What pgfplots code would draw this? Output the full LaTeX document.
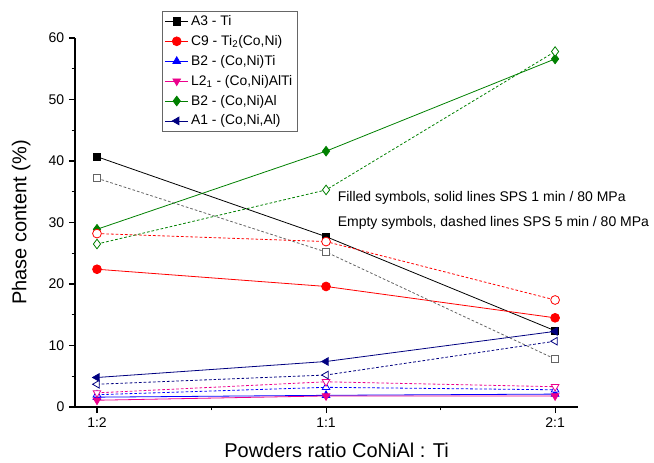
\documentclass[border=0pt]{standalone}
\usepackage{pgfplots}
\pgfplotsset{compat=1.18}
\usepackage{fontspec}
\setmainfont{Liberation Sans}

\definecolor{cnavy}{RGB}{0,0,128}
\definecolor{cgreen}{RGB}{0,128,0}
\definecolor{cgray}{RGB}{100,100,100}

\begin{document}
\begin{tikzpicture}
% fixed page: 654 x 462 px at 0.75pt per px, axis box at the origin
\useasboundingbox (-56.25pt,-41.25pt) rectangle (434.25pt,305.25pt);
\begin{axis}[
  at={(0,0)}, anchor=south west,
  scale only axis, width=377.25pt, height=276.75pt,
  xmin=-0.096, xmax=2.1, ymin=0, ymax=60,
  clip mode=individual,
  axis x line*=bottom, axis y line*=left,
  axis line style={-, line width=1pt},
  xtick={0,1,2}, xticklabels={1:2,1:1,2:1},
  minor xtick={0.5,1.5},
  ytick={0,10,...,60}, minor ytick={5,15,...,55},
  tick align=outside,
  major tick length=4.5pt, minor tick length=2.5pt,
  every tick/.style={line width=0.8pt, black},
  tick label style={font=\fontsize{10.5}{12}\selectfont},
  /pgf/number format/assume math mode=true,
  xlabel={Powders ratio CoNiAl : Ti},
  ylabel={Phase content (\%)},
  label style={font=\fontsize{15}{18}\selectfont},
  x label style={at={(axis description cs:0.52,-0.1165)}, anchor=center},
  y label style={at={(axis description cs:-0.107,0.5)}, anchor=center},
  legend style={at={(rel axis cs:0.173,1.073)}, anchor=north west,
    draw=black!60, fill=white, font=\fontsize{10.4}{12.5}\selectfont,
    row sep=1.9pt, inner xsep=2pt, inner ysep=1pt},
  legend cell align=left,
  legend image post style={sharp plot},
  every axis plot/.append style={line width=0.6pt, mark size=3pt},
]
% filled symbols, solid lines: SPS 1 min / 80 MPa
\addplot[black, mark=square*, mark size=2.7pt] coordinates {(0,40.7) (1,27.7) (2,12.4)};
\addplot[red, mark=*, mark size=3.3pt] coordinates {(0,22.4) (1,19.6) (2,14.5)};
\addplot[blue, mark=triangle*, mark size=3.3pt] coordinates {(0,1.6) (1,1.9) (2,2.1)};
\addplot[magenta, mark=triangle*, mark size=3.3pt, mark options={rotate=180}] coordinates {(0,1.1) (1,1.8) (2,1.8)};
\addplot[cgreen, mark=diamond*, mark size=3.6pt] coordinates {(0,28.9) (1,41.6) (2,56.6)};
\addplot[cnavy, mark=triangle*, mark size=3.3pt, mark options={rotate=90}] coordinates {(0,4.8) (1,7.4) (2,12.3)};
\legend{{A3 - Ti}, {C9 - Ti\textsubscript{2}(Co,Ni)}, {B2 - (Co,Ni)Ti},
  {L2\textsubscript{1} - (Co,Ni)AlTi}, {B2 - (Co,Ni)Al}, {A1 - (Co,Ni,Al)}}
% empty symbols, dashed lines: SPS 5 min / 80 MPa
\addplot[cgray, dash pattern=on 2pt off 1.5pt, mark=square*, mark size=2.7pt,
  mark options={solid, fill=white}, forget plot] coordinates {(0,37.2) (1,25.2) (2,7.8)};
\addplot[red, dash pattern=on 2pt off 1.5pt, mark=*, mark size=3.3pt,
  mark options={solid, fill=white}, forget plot] coordinates {(0,28.2) (1,26.9) (2,17.4)};
\addplot[blue, dash pattern=on 2pt off 1.5pt, mark=triangle*, mark size=3.3pt,
  mark options={solid, fill=white}, forget plot] coordinates {(0,2.0) (1,3.2) (2,2.8)};
\addplot[magenta, dash pattern=on 2pt off 1.5pt, mark=triangle*, mark size=3.3pt,
  mark options={solid, fill=white, rotate=180}, forget plot] coordinates {(0,2.3) (1,4.1) (2,3.3)};
\addplot[cgreen, dash pattern=on 2pt off 1.5pt, mark=diamond*, mark size=3.6pt,
  mark options={solid, fill=white}, forget plot] coordinates {(0,26.5) (1,35.3) (2,57.8)};
\addplot[cnavy, dash pattern=on 2pt off 1.5pt, mark=triangle*, mark size=3.3pt,
  mark options={solid, fill=white, rotate=90}, forget plot] coordinates {(0,3.7) (1,5.2) (2,10.7)};
\node[anchor=west, font=\fontsize{10.5}{12}\selectfont, inner sep=0pt] at (axis cs:1.05,34.0)
  {Filled symbols, solid lines SPS 1 min / 80 MPa};
\node[anchor=west, font=\fontsize{10.5}{12}\selectfont, inner sep=0pt] at (axis cs:1.05,29.9)
  {Empty symbols, dashed lines SPS 5 min / 80 MPa};
\end{axis}
\end{tikzpicture}
\end{document}
